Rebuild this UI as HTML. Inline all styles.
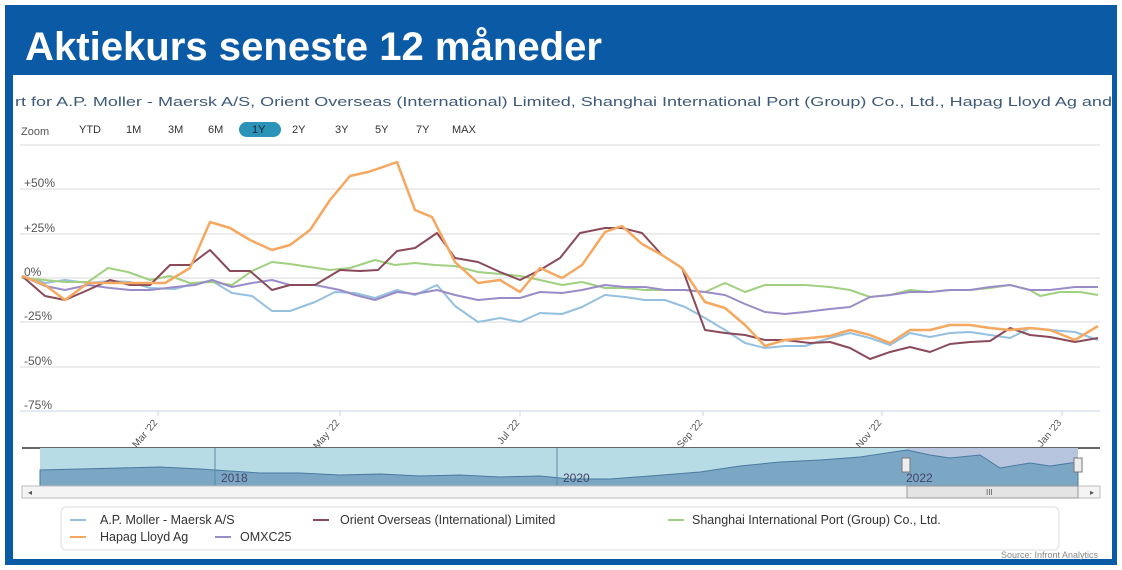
<!DOCTYPE html>
<html><head><meta charset="utf-8"><style>
html,body{margin:0;padding:0;background:#fff;width:1122px;height:570px;overflow:hidden}
svg{display:block}
text{font-family:"Liberation Sans",sans-serif}
</style></head><body>
<svg width="1122" height="570" viewBox="0 0 1122 570" xmlns="http://www.w3.org/2000/svg">
<rect x="5" y="5" width="1112" height="560" fill="#0b5aa6"/>
<rect x="13" y="75" width="1099" height="484" fill="#fff"/>
<text x="25" y="60" font-size="40" font-weight="bold" fill="#fff" textLength="577" lengthAdjust="spacingAndGlyphs">Aktiekurs seneste 12 måneder</text>
<text x="15" y="106" font-size="12.5" fill="#3e5a7a" textLength="1097" lengthAdjust="spacingAndGlyphs">rt for A.P. Moller - Maersk A/S, Orient Overseas (International) Limited, Shanghai International Port (Group) Co., Ltd., Hapag Lloyd Ag and</text>
<g font-size="11" fill="#333">
<text x="21" y="135" fill="#555">Zoom</text>
<text x="79" y="133">YTD</text><text x="126" y="133">1M</text><text x="168" y="133">3M</text><text x="208" y="133">6M</text>
<rect x="239" y="122" width="42" height="15" rx="7.5" fill="#2b93b8"/><text x="252" y="133" fill="#123">1Y</text>
<text x="292" y="133">2Y</text><text x="335" y="133">3Y</text><text x="375" y="133">5Y</text><text x="416" y="133">7Y</text><text x="452" y="133">MAX</text>
</g>
<g stroke="#d8d8d8" stroke-width="1">
<line x1="20" y1="145" x2="1100" y2="145"/>
<line x1="20" y1="189" x2="1100" y2="189"/>
<line x1="20" y1="234" x2="1100" y2="234"/>
<line x1="20" y1="278" x2="1100" y2="278"/>
<line x1="20" y1="322" x2="1100" y2="322"/>
<line x1="20" y1="367" x2="1100" y2="367"/>
<line x1="20" y1="411" x2="1100" y2="411" stroke="#c8d4e4"/>
</g>
<g font-size="12" fill="#555">
<text x="24" y="187">+50%</text><text x="24" y="232">+25%</text><text x="24" y="276">0%</text>
<text x="24" y="320">-25%</text><text x="24" y="365">-50%</text><text x="24" y="409">-75%</text>
</g>
<g stroke="#c8d4e4"><line x1="158" y1="411" x2="158" y2="416"/><line x1="340" y1="411" x2="340" y2="416"/><line x1="520" y1="411" x2="520" y2="416"/><line x1="703" y1="411" x2="703" y2="416"/><line x1="882" y1="411" x2="882" y2="416"/><line x1="1062" y1="411" x2="1062" y2="416"/></g>
<g font-size="10" fill="#555" text-anchor="end">
<text transform="translate(158,423) rotate(-50)">Mar '22</text>
<text transform="translate(340,423) rotate(-50)">May '22</text>
<text transform="translate(520,423) rotate(-50)">Jul '22</text>
<text transform="translate(703,423) rotate(-50)">Sep '22</text>
<text transform="translate(882,423) rotate(-50)">Nov '22</text>
<text transform="translate(1062,423) rotate(-50)">Jan '23</text>
</g>
<g fill="none" stroke-width="2" stroke-linejoin="round">
<polyline stroke="#95c0e0" points="22,276 45,283 65,280 88,283 110,281 130,282 150,288 175,289 195,283 212,281 232,293 252,296 272,311 290,311 315,302 335,292 355,293 375,298 397,290 415,295 437,285 455,306 478,322 500,318 520,322 540,313 562,314 582,307 605,295 625,297 645,300 665,300 685,307 705,318 725,330 745,343 765,348 785,346 805,346 830,338 850,333 870,338 890,345 910,333 930,337 950,333 970,332 990,335 1010,338 1030,328 1050,330 1075,332 1098,340"/>
<polyline stroke="#a0d080" points="22,278 45,280 65,282 88,282 108,268 128,272 150,280 170,276 190,283 212,282 232,285 252,271 272,262 290,264 310,267 330,270 350,268 375,260 395,265 415,263 435,265 455,266 478,272 500,274 520,276 540,280 562,285 582,282 605,288 625,288 645,290 665,290 685,290 705,292 725,283 745,292 765,285 785,285 805,285 830,287 850,290 870,297 890,295 910,290 930,292 950,290 970,290 990,288 1010,285 1030,290 1040,296 1060,292 1080,292 1098,295"/>
<polyline stroke="#9a8cc8" points="22,276 45,286 65,290 88,285 110,288 130,290 150,290 175,287 195,285 212,280 232,287 252,283 272,280 290,285 315,285 340,290 355,295 375,300 397,292 415,294 437,290 455,295 478,300 500,298 520,298 540,292 562,293 582,290 605,285 625,287 645,287 665,290 685,290 705,292 725,295 745,304 765,312 785,314 805,312 830,309 850,307 870,297 890,295 910,292 930,292 950,290 970,290 990,287 1010,285 1030,290 1050,290 1075,287 1098,287"/>
<polyline stroke="#8a4a5a" points="22,276 45,296 65,300 88,290 110,280 130,285 150,285 170,265 190,265 210,250 230,271 250,271 272,290 290,285 315,285 340,270 360,271 378,270 397,251 415,248 437,233 455,258 478,262 500,272 520,280 540,270 560,258 580,233 605,228 622,228 642,233 662,255 682,268 705,330 725,333 745,335 765,340 785,340 810,343 830,342 850,348 870,359 890,352 910,347 930,352 950,344 970,342 990,341 1010,328 1030,335 1050,337 1075,342 1098,338"/>
<polyline stroke="#f5a860" stroke-width="2.5" points="22,276 45,285 65,300 88,283 110,283 135,283 165,283 190,268 210,222 230,228 250,240 272,250 290,245 310,230 330,200 350,176 368,172 380,168 397,162 415,210 432,217 455,262 478,283 500,280 520,292 540,268 562,278 582,265 605,232 622,226 642,244 662,255 682,268 705,302 725,308 745,325 765,346 785,340 810,338 830,336 850,330 870,335 890,343 910,330 930,330 950,325 970,325 990,328 1010,330 1030,328 1050,330 1075,340 1098,326"/>
</g>
<!-- navigator -->
<line x1="22" y1="448" x2="1100" y2="448" stroke="#666" stroke-width="2"/>
<rect x="40" y="448" width="867" height="38" fill="#b8dce6"/>
<rect x="907" y="448" width="171" height="38" fill="#b7c4de"/>
<path d="M40,470 L80,469 L120,468 L160,467 L200,469 L230,471 L260,473 L300,473 L340,475 L380,474 L420,476 L460,475 L500,477 L540,476 L570,479 L610,479 L650,476 L700,472 L740,466 L780,462 L820,460 L860,457 L907,450 L930,455 L950,458 L980,455 L1000,468 L1030,463 L1050,466 L1078,462 L1078,486 L40,486 Z" fill="#7ba7c4" stroke="#4a7aa0" stroke-width="1"/>
<line x1="215" y1="448" x2="215" y2="486" stroke="#5a8aa0"/>
<line x1="557" y1="448" x2="557" y2="486" stroke="#5a8aa0"/>
<g font-size="12" fill="#446"><text x="221" y="482">2018</text><text x="563" y="482">2020</text><text x="906" y="482">2022</text></g>
<rect x="902" y="458" width="8" height="14" fill="#eee" stroke="#777"/>
<rect x="1074" y="458" width="8" height="14" fill="#eee" stroke="#777"/>
<rect x="22" y="486" width="1078" height="12" fill="#f4f4f4" stroke="#bbb"/>
<rect x="907" y="486" width="171" height="12" fill="#e4e4e4" stroke="#999"/>
<text x="986" y="495" font-size="8" fill="#555">III</text>
<text x="28" y="495" font-size="8" fill="#555">◂</text><text x="1090" y="495" font-size="8" fill="#555">▸</text>
<!-- legend -->
<rect x="61" y="507" width="998" height="43" rx="5" fill="#fff" stroke="#ddd"/>
<g font-size="12.5" fill="#333">
<line x1="70" y1="520" x2="86" y2="520" stroke="#95c0e0" stroke-width="2"/><text x="100" y="524">A.P. Moller - Maersk A/S</text>
<line x1="313" y1="520" x2="329" y2="520" stroke="#8a4a5a" stroke-width="2"/><text x="340" y="524">Orient Overseas (International) Limited</text>
<line x1="668" y1="520" x2="684" y2="520" stroke="#a0d080" stroke-width="2"/><text x="692" y="524">Shanghai International Port (Group) Co., Ltd.</text>
<line x1="70" y1="537" x2="86" y2="537" stroke="#f5a860" stroke-width="2"/><text x="100" y="541">Hapag Lloyd Ag</text>
<line x1="215" y1="537" x2="231" y2="537" stroke="#9a8cc8" stroke-width="2"/><text x="240" y="541">OMXC25</text>
</g>
<text x="1098" y="558" font-size="9" fill="#888" text-anchor="end">Source: Infront Analytics</text>
</svg>
</body></html>
